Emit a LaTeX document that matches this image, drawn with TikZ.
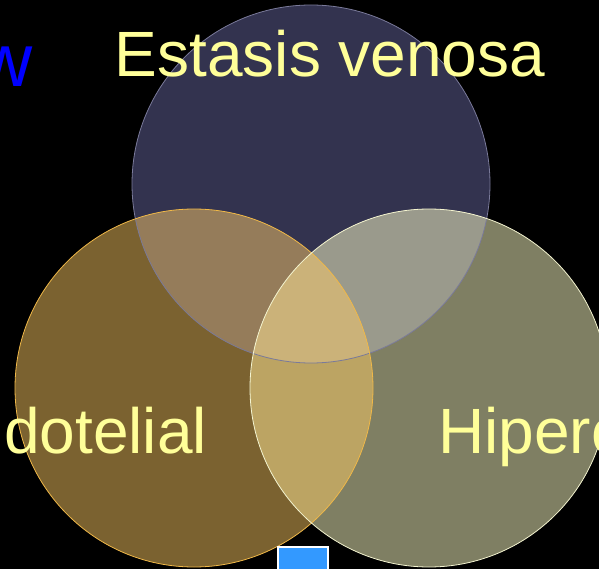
\documentclass[tikz,border=0pt]{standalone}
\usepackage{fontspec}
\setmainfont{Liberation Sans}
\definecolor{ctop}{HTML}{33334F}
\definecolor{cleft}{HTML}{7B6230}
\definecolor{cright}{HTML}{7F7F63}
\definecolor{ctl}{HTML}{957C5A}
\definecolor{ctr}{HTML}{9A9A8C}
\definecolor{clr}{HTML}{BCA463}
\definecolor{call}{HTML}{CBB279}
\definecolor{ltop}{HTML}{7A7A9A}
\definecolor{lleft}{HTML}{F0B848}
\definecolor{lright}{HTML}{F4F4D0}
\definecolor{txt}{HTML}{FFFF99}
\definecolor{bluebox}{HTML}{3399FF}
\tikzset{
  lbl/.style={text=txt, inner sep=0pt, anchor=base west, font=\fontsize{64}{64}\selectfont},
}
\begin{document}
\begin{tikzpicture}[x=1pt,y=-1pt]
\fill[black] (0,0) rectangle (599,569);
\useasboundingbox (0,0) rectangle (599,569);
\def\Ctop{(311,184) circle (179)}
\def\Cleft{(194,388) circle (179)}
\def\Cright{(429,388) circle (179)}
\fill[ctop] \Ctop;
\fill[cleft] \Cleft;
\fill[cright] \Cright;
\begin{scope}
  \clip \Ctop; \fill[ctl] \Cleft; \fill[ctr] \Cright;
\end{scope}
\begin{scope}
  \clip \Cleft; \fill[clr] \Cright;
  \clip \Cright; \fill[call] \Ctop;
\end{scope}
\draw[ltop, line width=0.8pt] \Ctop;
\draw[lleft, line width=0.8pt] \Cleft;
\draw[lright, line width=0.8pt] \Cright;
\node[lbl, anchor=base] (t1) at (330,77) {Estasis venosa};
\node[lbl] (t2) at (4,453) {dotelial};
\node[lbl] (t3) at (438,453) {Hiperc};
\node[lbl, text=blue, font=\fontsize{75}{75}\selectfont] (t0) at (-22,87) {w};
\node[draw=white, line width=1.5pt, fill=bluebox, minimum width=50pt, minimum height=30pt, inner sep=0pt, anchor=north west] (b) at (277,546) {};
\end{tikzpicture}
\end{document}
